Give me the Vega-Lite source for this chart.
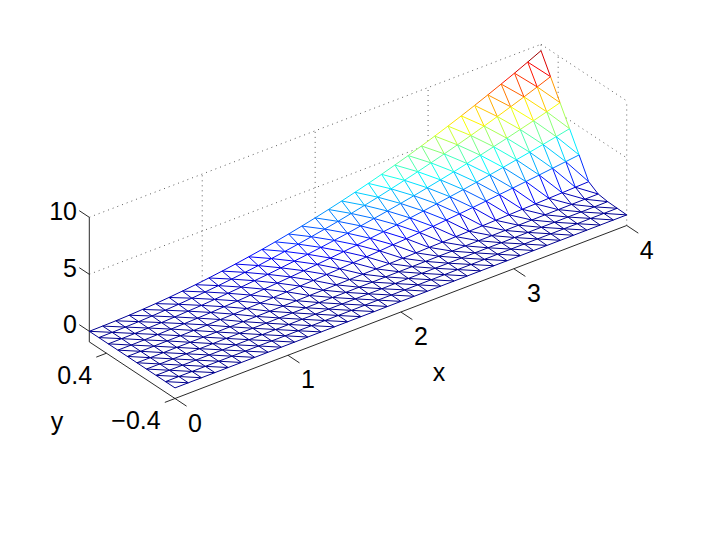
{"$schema":"https://vega.github.io/schema/vega-lite/v6.json","width":706,"height":555,"padding":0,"autosize":{"type":"none"},"background":"white","config":{"view":{"stroke":null}},
"datasets":{"nodes":[
{"x":0,"y":0.6,"z":0},{"x":0,"y":0.489,"z":0},{"x":0,"y":0.378,"z":0},{"x":0,"y":0.267,"z":0},{"x":0,"y":0.156,"z":0},{"x":0,"y":0.044,"z":0},{"x":0,"y":-0.067,"z":0},{"x":0,"y":-0.178,"z":0},{"x":0,"y":-0.289,"z":0},{"x":0,"y":-0.4,"z":0},
{"x":0.118,"y":0.6,"z":0.01},{"x":0.118,"y":0.489,"z":0.01},{"x":0.118,"y":0.378,"z":0.01},{"x":0.118,"y":0.267,"z":0},{"x":0.118,"y":0.156,"z":0},{"x":0.118,"y":0.044,"z":0},{"x":0.118,"y":-0.067,"z":0},{"x":0.118,"y":-0.178,"z":0},{"x":0.118,"y":-0.289,"z":0},{"x":0.118,"y":-0.4,"z":0},
{"x":0.235,"y":0.6,"z":0.03},{"x":0.235,"y":0.489,"z":0.03},{"x":0.235,"y":0.378,"z":0.02},{"x":0.235,"y":0.267,"z":0.01},{"x":0.235,"y":0.156,"z":0.01},{"x":0.235,"y":0.044,"z":0},{"x":0.235,"y":-0.067,"z":0},{"x":0.235,"y":-0.178,"z":0},{"x":0.235,"y":-0.289,"z":0},{"x":0.235,"y":-0.4,"z":0},
{"x":0.353,"y":0.6,"z":0.07},{"x":0.353,"y":0.489,"z":0.06},{"x":0.353,"y":0.378,"z":0.05},{"x":0.353,"y":0.267,"z":0.03},{"x":0.353,"y":0.156,"z":0.02},{"x":0.353,"y":0.044,"z":0.01},{"x":0.353,"y":-0.067,"z":0},{"x":0.353,"y":-0.178,"z":0},{"x":0.353,"y":-0.289,"z":0},{"x":0.353,"y":-0.4,"z":0},
{"x":0.471,"y":0.6,"z":0.13},{"x":0.471,"y":0.489,"z":0.11},{"x":0.471,"y":0.378,"z":0.08},{"x":0.471,"y":0.267,"z":0.06},{"x":0.471,"y":0.156,"z":0.03},{"x":0.471,"y":0.044,"z":0.01},{"x":0.471,"y":-0.067,"z":0},{"x":0.471,"y":-0.178,"z":0},{"x":0.471,"y":-0.289,"z":0},{"x":0.471,"y":-0.4,"z":0},
{"x":0.588,"y":0.6,"z":0.2},{"x":0.588,"y":0.489,"z":0.17},{"x":0.588,"y":0.378,"z":0.13},{"x":0.588,"y":0.267,"z":0.09},{"x":0.588,"y":0.156,"z":0.05},{"x":0.588,"y":0.044,"z":0.02},{"x":0.588,"y":-0.067,"z":0},{"x":0.588,"y":-0.178,"z":0},{"x":0.588,"y":-0.289,"z":0},{"x":0.588,"y":-0.4,"z":0},
{"x":0.706,"y":0.6,"z":0.29},{"x":0.706,"y":0.489,"z":0.24},{"x":0.706,"y":0.378,"z":0.19},{"x":0.706,"y":0.267,"z":0.13},{"x":0.706,"y":0.156,"z":0.08},{"x":0.706,"y":0.044,"z":0.02},{"x":0.706,"y":-0.067,"z":0.01},{"x":0.706,"y":-0.178,"z":0},{"x":0.706,"y":-0.289,"z":0},{"x":0.706,"y":-0.4,"z":0},
{"x":0.824,"y":0.6,"z":0.4},{"x":0.824,"y":0.489,"z":0.33},{"x":0.824,"y":0.378,"z":0.25},{"x":0.824,"y":0.267,"z":0.18},{"x":0.824,"y":0.156,"z":0.11},{"x":0.824,"y":0.044,"z":0.03},{"x":0.824,"y":-0.067,"z":0.01},{"x":0.824,"y":-0.178,"z":0},{"x":0.824,"y":-0.289,"z":0},{"x":0.824,"y":-0.4,"z":0},
{"x":0.941,"y":0.6,"z":0.52},{"x":0.941,"y":0.489,"z":0.43},{"x":0.941,"y":0.378,"z":0.33},{"x":0.941,"y":0.267,"z":0.24},{"x":0.941,"y":0.156,"z":0.14},{"x":0.941,"y":0.044,"z":0.04},{"x":0.941,"y":-0.067,"z":0.01},{"x":0.941,"y":-0.178,"z":0},{"x":0.941,"y":-0.289,"z":0},{"x":0.941,"y":-0.4,"z":0},
{"x":1.059,"y":0.6,"z":0.66},{"x":1.059,"y":0.489,"z":0.54},{"x":1.059,"y":0.378,"z":0.42},{"x":1.059,"y":0.267,"z":0.3},{"x":1.059,"y":0.156,"z":0.18},{"x":1.059,"y":0.044,"z":0.05},{"x":1.059,"y":-0.067,"z":0.01},{"x":1.059,"y":-0.178,"z":0},{"x":1.059,"y":-0.289,"z":0},{"x":1.059,"y":-0.4,"z":0},
{"x":1.176,"y":0.6,"z":0.82},{"x":1.176,"y":0.489,"z":0.67},{"x":1.176,"y":0.378,"z":0.52},{"x":1.176,"y":0.267,"z":0.37},{"x":1.176,"y":0.156,"z":0.22},{"x":1.176,"y":0.044,"z":0.06},{"x":1.176,"y":-0.067,"z":0.02},{"x":1.176,"y":-0.178,"z":0},{"x":1.176,"y":-0.289,"z":0},{"x":1.176,"y":-0.4,"z":0},
{"x":1.294,"y":0.6,"z":0.99},{"x":1.294,"y":0.489,"z":0.81},{"x":1.294,"y":0.378,"z":0.63},{"x":1.294,"y":0.267,"z":0.44},{"x":1.294,"y":0.156,"z":0.26},{"x":1.294,"y":0.044,"z":0.07},{"x":1.294,"y":-0.067,"z":0.02},{"x":1.294,"y":-0.178,"z":0.01},{"x":1.294,"y":-0.289,"z":0},{"x":1.294,"y":-0.4,"z":0},
{"x":1.412,"y":0.6,"z":1.18},{"x":1.412,"y":0.489,"z":0.96},{"x":1.412,"y":0.378,"z":0.74},{"x":1.412,"y":0.267,"z":0.53},{"x":1.412,"y":0.156,"z":0.31},{"x":1.412,"y":0.044,"z":0.09},{"x":1.412,"y":-0.067,"z":0.02},{"x":1.412,"y":-0.178,"z":0.01},{"x":1.412,"y":-0.289,"z":0},{"x":1.412,"y":-0.4,"z":0},
{"x":1.529,"y":0.6,"z":1.38},{"x":1.529,"y":0.489,"z":1.13},{"x":1.529,"y":0.378,"z":0.87},{"x":1.529,"y":0.267,"z":0.62},{"x":1.529,"y":0.156,"z":0.37},{"x":1.529,"y":0.044,"z":0.1},{"x":1.529,"y":-0.067,"z":0.03},{"x":1.529,"y":-0.178,"z":0.01},{"x":1.529,"y":-0.289,"z":0},{"x":1.529,"y":-0.4,"z":0},
{"x":1.647,"y":0.6,"z":1.6},{"x":1.647,"y":0.489,"z":1.31},{"x":1.647,"y":0.378,"z":1.01},{"x":1.647,"y":0.267,"z":0.72},{"x":1.647,"y":0.156,"z":0.42},{"x":1.647,"y":0.044,"z":0.12},{"x":1.647,"y":-0.067,"z":0.03},{"x":1.647,"y":-0.178,"z":0.01},{"x":1.647,"y":-0.289,"z":0},{"x":1.647,"y":-0.4,"z":0},
{"x":1.765,"y":0.6,"z":1.84},{"x":1.765,"y":0.489,"z":1.5},{"x":1.765,"y":0.378,"z":1.16},{"x":1.765,"y":0.267,"z":0.83},{"x":1.765,"y":0.156,"z":0.49},{"x":1.765,"y":0.044,"z":0.14},{"x":1.765,"y":-0.067,"z":0.03},{"x":1.765,"y":-0.178,"z":0.01},{"x":1.765,"y":-0.289,"z":0.01},{"x":1.765,"y":-0.4,"z":0},
{"x":1.882,"y":0.6,"z":2.09},{"x":1.882,"y":0.489,"z":1.71},{"x":1.882,"y":0.378,"z":1.32},{"x":1.882,"y":0.267,"z":0.94},{"x":1.882,"y":0.156,"z":0.55},{"x":1.882,"y":0.044,"z":0.16},{"x":1.882,"y":-0.067,"z":0.04},{"x":1.882,"y":-0.178,"z":0.01},{"x":1.882,"y":-0.289,"z":0.01},{"x":1.882,"y":-0.4,"z":0},
{"x":2,"y":0.6,"z":2.36},{"x":2,"y":0.489,"z":1.93},{"x":2,"y":0.378,"z":1.49},{"x":2,"y":0.267,"z":1.06},{"x":2,"y":0.156,"z":0.63},{"x":2,"y":0.044,"z":0.18},{"x":2,"y":-0.067,"z":0.04},{"x":2,"y":-0.178,"z":0.01},{"x":2,"y":-0.289,"z":0.01},{"x":2,"y":-0.4,"z":0},
{"x":2.118,"y":0.6,"z":2.65},{"x":2.118,"y":0.489,"z":2.16},{"x":2.118,"y":0.378,"z":1.67},{"x":2.118,"y":0.267,"z":1.19},{"x":2.118,"y":0.156,"z":0.7},{"x":2.118,"y":0.044,"z":0.2},{"x":2.118,"y":-0.067,"z":0.05},{"x":2.118,"y":-0.178,"z":0.02},{"x":2.118,"y":-0.289,"z":0.01},{"x":2.118,"y":-0.4,"z":0},
{"x":2.235,"y":0.6,"z":2.95},{"x":2.235,"y":0.489,"z":2.41},{"x":2.235,"y":0.378,"z":1.87},{"x":2.235,"y":0.267,"z":1.33},{"x":2.235,"y":0.156,"z":0.78},{"x":2.235,"y":0.044,"z":0.22},{"x":2.235,"y":-0.067,"z":0.06},{"x":2.235,"y":-0.178,"z":0.02},{"x":2.235,"y":-0.289,"z":0.01},{"x":2.235,"y":-0.4,"z":0},
{"x":2.353,"y":0.6,"z":3.27},{"x":2.353,"y":0.489,"z":2.67},{"x":2.353,"y":0.378,"z":2.07},{"x":2.353,"y":0.267,"z":1.47},{"x":2.353,"y":0.156,"z":0.87},{"x":2.353,"y":0.044,"z":0.24},{"x":2.353,"y":-0.067,"z":0.06},{"x":2.353,"y":-0.178,"z":0.02},{"x":2.353,"y":-0.289,"z":0.01},{"x":2.353,"y":-0.4,"z":0},
{"x":2.471,"y":0.6,"z":3.6},{"x":2.471,"y":0.489,"z":2.94},{"x":2.471,"y":0.378,"z":2.28},{"x":2.471,"y":0.267,"z":1.62},{"x":2.471,"y":0.156,"z":0.95},{"x":2.471,"y":0.044,"z":0.27},{"x":2.471,"y":-0.067,"z":0.07},{"x":2.471,"y":-0.178,"z":0.02},{"x":2.471,"y":-0.289,"z":0.01},{"x":2.471,"y":-0.4,"z":0},
{"x":2.588,"y":0.6,"z":3.95},{"x":2.588,"y":0.489,"z":3.23},{"x":2.588,"y":0.378,"z":2.5},{"x":2.588,"y":0.267,"z":1.78},{"x":2.588,"y":0.156,"z":1.05},{"x":2.588,"y":0.044,"z":0.3},{"x":2.588,"y":-0.067,"z":0.08},{"x":2.588,"y":-0.178,"z":0.02},{"x":2.588,"y":-0.289,"z":0.01},{"x":2.588,"y":-0.4,"z":0},
{"x":2.706,"y":0.6,"z":4.32},{"x":2.706,"y":0.489,"z":3.53},{"x":2.706,"y":0.378,"z":2.73},{"x":2.706,"y":0.267,"z":1.94},{"x":2.706,"y":0.156,"z":1.14},{"x":2.706,"y":0.044,"z":0.32},{"x":2.706,"y":-0.067,"z":0.08},{"x":2.706,"y":-0.178,"z":0.03},{"x":2.706,"y":-0.289,"z":0.01},{"x":2.706,"y":-0.4,"z":0},
{"x":2.824,"y":0.6,"z":4.7},{"x":2.824,"y":0.489,"z":3.84},{"x":2.824,"y":0.378,"z":2.98},{"x":2.824,"y":0.267,"z":2.12},{"x":2.824,"y":0.156,"z":1.25},{"x":2.824,"y":0.044,"z":0.35},{"x":2.824,"y":-0.067,"z":0.09},{"x":2.824,"y":-0.178,"z":0.03},{"x":2.824,"y":-0.289,"z":0.01},{"x":2.824,"y":-0.4,"z":0},
{"x":2.941,"y":0.6,"z":5.1},{"x":2.941,"y":0.489,"z":4.17},{"x":2.941,"y":0.378,"z":3.23},{"x":2.941,"y":0.267,"z":2.3},{"x":2.941,"y":0.156,"z":1.35},{"x":2.941,"y":0.044,"z":0.38},{"x":2.941,"y":-0.067,"z":0.1},{"x":2.941,"y":-0.178,"z":0.03},{"x":2.941,"y":-0.289,"z":0.02},{"x":2.941,"y":-0.4,"z":0},
{"x":3.059,"y":0.6,"z":5.52},{"x":3.059,"y":0.489,"z":4.51},{"x":3.059,"y":0.378,"z":3.49},{"x":3.059,"y":0.267,"z":2.48},{"x":3.059,"y":0.156,"z":1.46},{"x":3.059,"y":0.044,"z":0.41},{"x":3.059,"y":-0.067,"z":0.1},{"x":3.059,"y":-0.178,"z":0.03},{"x":3.059,"y":-0.289,"z":0.02},{"x":3.059,"y":-0.4,"z":0},
{"x":3.176,"y":0.6,"z":5.95},{"x":3.176,"y":0.489,"z":4.86},{"x":3.176,"y":0.378,"z":3.77},{"x":3.176,"y":0.267,"z":2.68},{"x":3.176,"y":0.156,"z":1.58},{"x":3.176,"y":0.044,"z":0.45},{"x":3.176,"y":-0.067,"z":0.11},{"x":3.176,"y":-0.178,"z":0.04},{"x":3.176,"y":-0.289,"z":0.02},{"x":3.176,"y":-0.4,"z":0},
{"x":3.294,"y":0.6,"z":6.4},{"x":3.294,"y":0.489,"z":5.23},{"x":3.294,"y":0.378,"z":4.05},{"x":3.294,"y":0.267,"z":2.88},{"x":3.294,"y":0.156,"z":1.7},{"x":3.294,"y":0.044,"z":0.48},{"x":3.294,"y":-0.067,"z":0.12},{"x":3.294,"y":-0.178,"z":0.04},{"x":3.294,"y":-0.289,"z":0.02},{"x":3.294,"y":-0.4,"z":0},
{"x":3.412,"y":0.6,"z":6.87},{"x":3.412,"y":0.489,"z":5.61},{"x":3.412,"y":0.378,"z":4.35},{"x":3.412,"y":0.267,"z":3.09},{"x":3.412,"y":0.156,"z":1.82},{"x":3.412,"y":0.044,"z":0.52},{"x":3.412,"y":-0.067,"z":0.13},{"x":3.412,"y":-0.178,"z":0.04},{"x":3.412,"y":-0.289,"z":0.02},{"x":3.412,"y":-0.4,"z":0},
{"x":3.529,"y":0.6,"z":7.35},{"x":3.529,"y":0.489,"z":6},{"x":3.529,"y":0.378,"z":4.65},{"x":3.529,"y":0.267,"z":3.31},{"x":3.529,"y":0.156,"z":1.95},{"x":3.529,"y":0.044,"z":0.55},{"x":3.529,"y":-0.067,"z":0.14},{"x":3.529,"y":-0.178,"z":0.04},{"x":3.529,"y":-0.289,"z":0.02},{"x":3.529,"y":-0.4,"z":0},
{"x":3.647,"y":0.6,"z":7.85},{"x":3.647,"y":0.489,"z":6.41},{"x":3.647,"y":0.378,"z":4.97},{"x":3.647,"y":0.267,"z":3.53},{"x":3.647,"y":0.156,"z":2.08},{"x":3.647,"y":0.044,"z":0.59},{"x":3.647,"y":-0.067,"z":0.15},{"x":3.647,"y":-0.178,"z":0.05},{"x":3.647,"y":-0.289,"z":0.02},{"x":3.647,"y":-0.4,"z":0},
{"x":3.765,"y":0.6,"z":8.36},{"x":3.765,"y":0.489,"z":6.83},{"x":3.765,"y":0.378,"z":5.29},{"x":3.765,"y":0.267,"z":3.76},{"x":3.765,"y":0.156,"z":2.22},{"x":3.765,"y":0.044,"z":0.63},{"x":3.765,"y":-0.067,"z":0.16},{"x":3.765,"y":-0.178,"z":0.05},{"x":3.765,"y":-0.289,"z":0.03},{"x":3.765,"y":-0.4,"z":0},
{"x":3.882,"y":0.6,"z":8.89},{"x":3.882,"y":0.489,"z":7.26},{"x":3.882,"y":0.378,"z":5.63},{"x":3.882,"y":0.267,"z":4},{"x":3.882,"y":0.156,"z":2.36},{"x":3.882,"y":0.044,"z":0.67},{"x":3.882,"y":-0.067,"z":0.17},{"x":3.882,"y":-0.178,"z":0.05},{"x":3.882,"y":-0.289,"z":0.03},{"x":3.882,"y":-0.4,"z":0},
{"x":4,"y":0.6,"z":9.44},{"x":4,"y":0.489,"z":7.71},{"x":4,"y":0.378,"z":5.98},{"x":4,"y":0.267,"z":4.25},{"x":4,"y":0.156,"z":2.5},{"x":4,"y":0.044,"z":0.71},{"x":4,"y":-0.067,"z":0.18},{"x":4,"y":-0.178,"z":0.06},{"x":4,"y":-0.289,"z":0.03},{"x":4,"y":-0.4,"z":0}
],
"frame":[
{"kind":"axis","x":0,"y":0.6,"z":-0.93,"x2":0,"y2":0.6,"z2":10},
{"kind":"axis","x":0,"y":0.6,"z":0,"x2":0,"y2":0.717,"z2":0},
{"kind":"axis","x":0,"y":0.6,"z":5,"x2":0,"y2":0.717,"z2":5},
{"kind":"axis","x":0,"y":0.6,"z":10,"x2":0,"y2":0.717,"z2":10},
{"kind":"axis","x":0,"y":0.6,"z":-0.93,"x2":0,"y2":-0.4,"z2":-0.93},
{"kind":"axis","x":0,"y":0.4,"z":-0.93,"x2":-0.09,"y2":0.4,"z2":-0.93},
{"kind":"axis","x":0,"y":-0.4,"z":-0.93,"x2":-0.09,"y2":-0.4,"z2":-0.93},
{"kind":"axis","x":0,"y":-0.4,"z":-0.93,"x2":4,"y2":-0.4,"z2":-0.93},
{"kind":"axis","x":0,"y":-0.4,"z":-0.93,"x2":0,"y2":-0.535,"z2":-0.93},
{"kind":"axis","x":1,"y":-0.4,"z":-0.93,"x2":1,"y2":-0.535,"z2":-0.93},
{"kind":"axis","x":2,"y":-0.4,"z":-0.93,"x2":2,"y2":-0.535,"z2":-0.93},
{"kind":"axis","x":3,"y":-0.4,"z":-0.93,"x2":3,"y2":-0.535,"z2":-0.93},
{"kind":"axis","x":4,"y":-0.4,"z":-0.93,"x2":4,"y2":-0.535,"z2":-0.93},
{"kind":"grid","x":1,"y":0.6,"z":0.59,"x2":1,"y2":0.6,"z2":10},
{"kind":"grid","x":2,"y":0.6,"z":2.36,"x2":2,"y2":0.6,"z2":10},
{"kind":"grid","x":3,"y":0.6,"z":5.31,"x2":3,"y2":0.6,"z2":10},
{"kind":"grid","x":4,"y":0.6,"z":9.44,"x2":4,"y2":0.6,"z2":10},
{"kind":"grid","x":0,"y":0.6,"z":5,"x2":2.91,"y2":0.6,"z2":5},
{"kind":"grid","x":0,"y":0.6,"z":10,"x2":4,"y2":0.6,"z2":10},
{"kind":"grid","x":4,"y":0.6,"z":10,"x2":4,"y2":-0.4,"z2":10},
{"kind":"grid","x":4,"y":0.31,"z":5,"x2":4,"y2":-0.4,"z2":5},
{"kind":"grid","x":4,"y":0.4,"z":6.3,"x2":4,"y2":0.4,"z2":10},
{"kind":"grid","x":4,"y":-0.4,"z":-0.93,"x2":4,"y2":-0.4,"z2":10}
],
"labels":[
{"label":"10","x":0,"y":0.7435,"z":9.75,"side":"right"},
{"label":"5","x":0,"y":0.7435,"z":4.75,"side":"right"},
{"label":"0","x":0,"y":0.7435,"z":-0.2,"side":"right"},
{"label":"0.4","x":-0.127,"y":0.4,"z":-2.45,"side":"right"},
{"label":"−0.4","x":-0.127,"y":-0.4,"z":-2.45,"side":"right"},
{"label":"0","x":0,"y":-0.634,"z":-1.98,"side":"center"},
{"label":"1","x":1,"y":-0.634,"z":-1.98,"side":"center"},
{"label":"2","x":2,"y":-0.634,"z":-1.98,"side":"center"},
{"label":"3","x":3,"y":-0.634,"z":-1.98,"side":"center"},
{"label":"4","x":4,"y":-0.634,"z":-1.98,"side":"center"},
{"label":"x","x":1.958,"y":-0.9,"z":-3.64,"side":"center"},
{"label":"y","x":-0.9,"y":-0.209,"z":-0.53,"side":"center"}
]},
"encoding":{
"x":{"field":"u","type":"quantitative","axis":null,"scale":{"domain":[0,706],"range":[0,706],"nice":false,"zero":false}},
"y":{"field":"v","type":"quantitative","axis":null,"scale":{"domain":[0,555],"range":[0,555],"nice":false,"zero":false}}
},
"layer":[
{"data":{"name":"frame"},"transform":[{"filter":"datum.kind=='grid'"},
{"calculate":"89.3+112.93*datum.x+85.7*(0.6-datum.y)","as":"u"},{"calculate":"331.3-43.25*datum.x+56.6*(0.6-datum.y)-11.4*datum.z","as":"v"},
{"calculate":"89.3+112.93*datum.x2+85.7*(0.6-datum.y2)","as":"u2"},{"calculate":"331.3-43.25*datum.x2+56.6*(0.6-datum.y2)-11.4*datum.z2","as":"v2"}],
"mark":{"type":"rule","stroke":"#333333","strokeWidth":0.8,"strokeDash":[1,4]},"encoding":{"x2":{"field":"u2"},"y2":{"field":"v2"}}},
{"data":{"name":"frame"},"transform":[{"filter":"datum.kind=='axis'"},
{"calculate":"89.3+112.93*datum.x+85.7*(0.6-datum.y)","as":"u"},{"calculate":"331.3-43.25*datum.x+56.6*(0.6-datum.y)-11.4*datum.z","as":"v"},
{"calculate":"89.3+112.93*datum.x2+85.7*(0.6-datum.y2)","as":"u2"},{"calculate":"331.3-43.25*datum.x2+56.6*(0.6-datum.y2)-11.4*datum.z2","as":"v2"}],
"mark":{"type":"rule","stroke":"#111111","strokeWidth":0.9},"encoding":{"x2":{"field":"u2"},"y2":{"field":"v2"}}},
{"data":{"name":"nodes"},"transform":[
{"calculate":"89.3+112.93*datum.x+85.7*(0.6-datum.y)","as":"u"},{"calculate":"331.3-43.25*datum.x+56.6*(0.6-datum.y)-11.4*datum.z","as":"v"},
{"window":[{"op":"lead","field":"u","as":"u2"},{"op":"lead","field":"v","as":"v2"},{"op":"lead","field":"z","as":"z2"}],"groupby":["y"],"sort":[{"field":"x","order":"ascending"}]},
{"filter":"datum.u2!=null"},{"calculate":"(datum.z+datum.z2)/2","as":"zm"}],
"mark":{"type":"rule","strokeWidth":1},"encoding":{"x2":{"field":"u2"},"y2":{"field":"v2"},"color":{"field":"zm","type":"quantitative","legend":null,"scale":{"domain":[0,1.18,3.54,5.9,8.26,9.44],"range":["#00008f","#0000ff","#00ffff","#ffff00","#ff0000","#800000"],"interpolate":"rgb"}}}},
{"data":{"name":"nodes"},"transform":[
{"calculate":"89.3+112.93*datum.x+85.7*(0.6-datum.y)","as":"u"},{"calculate":"331.3-43.25*datum.x+56.6*(0.6-datum.y)-11.4*datum.z","as":"v"},
{"window":[{"op":"lead","field":"u","as":"u2"},{"op":"lead","field":"v","as":"v2"},{"op":"lead","field":"z","as":"z2"}],"groupby":["x"],"sort":[{"field":"y","order":"descending"}]},
{"filter":"datum.u2!=null"},{"calculate":"(datum.z+datum.z2)/2","as":"zm"}],
"mark":{"type":"rule","strokeWidth":1},"encoding":{"x2":{"field":"u2"},"y2":{"field":"v2"},"color":{"field":"zm","type":"quantitative","legend":null,"scale":{"domain":[0,1.18,3.54,5.9,8.26,9.44],"range":["#00008f","#0000ff","#00ffff","#ffff00","#ff0000","#800000"],"interpolate":"rgb"}}}},
{"data":{"name":"nodes"},"transform":[
{"calculate":"round(datum.x*8.5)-round((0.6-datum.y)*9)","as":"d"},
{"calculate":"89.3+112.93*datum.x+85.7*(0.6-datum.y)","as":"u"},{"calculate":"331.3-43.25*datum.x+56.6*(0.6-datum.y)-11.4*datum.z","as":"v"},
{"window":[{"op":"lead","field":"u","as":"u2"},{"op":"lead","field":"v","as":"v2"},{"op":"lead","field":"z","as":"z2"}],"groupby":["d"],"sort":[{"field":"x","order":"ascending"}]},
{"filter":"datum.u2!=null"},{"calculate":"(datum.z+datum.z2)/2","as":"zm"}],
"mark":{"type":"rule","strokeWidth":1},"encoding":{"x2":{"field":"u2"},"y2":{"field":"v2"},"color":{"field":"zm","type":"quantitative","legend":null,"scale":{"domain":[0,1.18,3.54,5.9,8.26,9.44],"range":["#00008f","#0000ff","#00ffff","#ffff00","#ff0000","#800000"],"interpolate":"rgb"}}}},
{"data":{"name":"labels"},"transform":[{"filter":"datum.side=='right'"},
{"calculate":"89.3+112.93*datum.x+85.7*(0.6-datum.y)","as":"u"},{"calculate":"331.3-43.25*datum.x+56.6*(0.6-datum.y)-11.4*datum.z","as":"v"}],
"mark":{"type":"text","font":"Liberation Sans","fontSize":25,"align":"right","baseline":"middle","color":"black"},"encoding":{"text":{"field":"label"}}},
{"data":{"name":"labels"},"transform":[{"filter":"datum.side=='center'"},
{"calculate":"89.3+112.93*datum.x+85.7*(0.6-datum.y)","as":"u"},{"calculate":"331.3-43.25*datum.x+56.6*(0.6-datum.y)-11.4*datum.z","as":"v"}],
"mark":{"type":"text","font":"Liberation Sans","fontSize":25,"align":"center","baseline":"middle","color":"black"},"encoding":{"text":{"field":"label"}}}
]}
